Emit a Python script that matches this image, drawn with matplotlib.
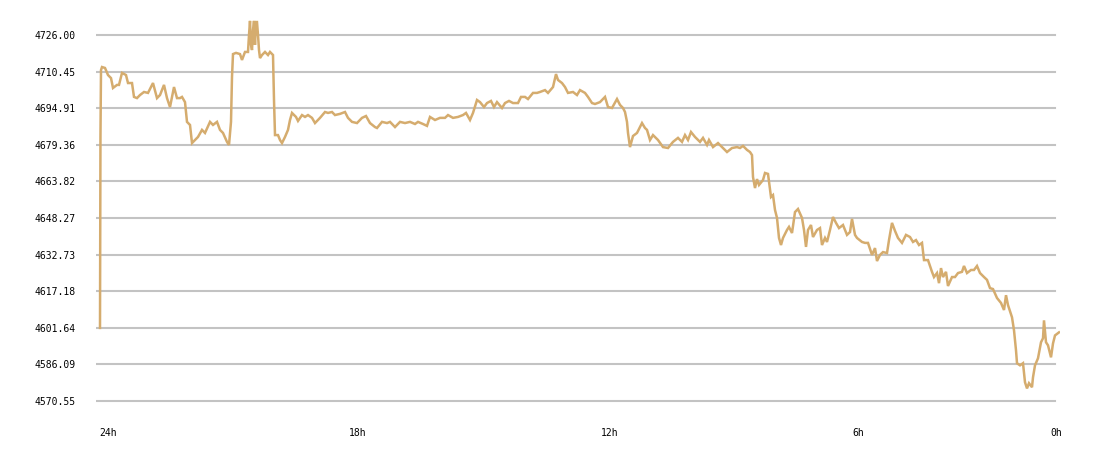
import numpy as np
import matplotlib
matplotlib.use('Agg')
import matplotlib.pyplot as plt

# minutes since 24h ago, price
minutes = [0, 0.7, 1.5, 3, 7.5, 12, 16.5, 19.5, 25.5, 28.5, 33, 39, 42, 48, 51, 55.5, 60, 66, 72, 79.5,
           85.5, 90, 96, 100.5, 105, 111, 115.5, 120, 123, 127.5, 130.5, 135, 138, 142.5, 147, 153, 157.5,
           165, 169.5, 175.5, 180, 184.5, 190.5, 193.5, 196.5, 198, 199.5, 204, 210, 213, 217.5, 222,
           223.5, 225, 226.5, 228, 229.5, 231, 232.5, 234, 235.5, 237, 238.5, 240, 243, 247.5, 252, 255,
           259.5, 261, 262.5, 267, 270, 273, 277.5, 282, 285, 288, 294, 297, 303, 307.5, 312, 318, 322.5,
           330, 337.5, 342, 348, 352.5, 360, 367.5, 372, 378, 385.5, 393, 399, 405, 412.5, 415.5, 423,
           430.5, 435, 442.5, 450, 457.5, 465, 472.5, 477, 484.5, 490.5, 495, 502.5, 510, 517.5, 522,
           529.5, 537, 544.5, 549, 555, 559.5, 565.5, 570, 576, 580.5, 586.5, 591, 595.5, 603, 607.5,
           613.5, 619.5, 627, 631.5, 637.5, 642, 649.5, 655.5, 660, 667.5, 672, 679.5, 684, 687, 693,
           697.5, 702, 709.5, 715.5, 720, 727.5, 732, 738, 742.5, 750, 757.5, 762, 768, 775.5, 780,
           784.5, 787.5, 790.5, 792, 795, 799.5, 805.5, 813, 817.5, 820.5, 825, 829.5, 837, 844.5, 852,
           859.5, 867, 873, 877.5, 882, 886.5, 892.5, 900, 904.5, 910.5, 913.5, 919.5, 927, 934.5, 940.5,
           948, 955.5, 960, 964.5, 970.5, 975, 978, 979.5, 982.5, 985.5, 988.5, 994.5, 997.5, 1002,
           1006.5, 1009.5, 1012.5, 1015.5, 1018.5, 1021.5, 1024.5, 1030.5, 1033.5, 1038, 1042.5, 1047,
           1053, 1056, 1059, 1062, 1066.5, 1069.5, 1075.5, 1080, 1083, 1087.5, 1090.5, 1095, 1099.5,
           1104, 1108.5, 1114.5, 1120.5, 1125, 1128, 1132.5, 1135.5, 1143, 1147.5, 1152, 1158, 1162.5,
           1165.5, 1170, 1174.5, 1180.5, 1183.5, 1188, 1192.5, 1197, 1203, 1209, 1215, 1219.5, 1224,
           1228.5, 1233, 1236, 1242, 1248, 1251, 1255.5, 1258.5, 1261.5, 1264.5, 1269, 1272, 1278,
           1282.5, 1287, 1293, 1296, 1300.5, 1306.5, 1311, 1315.5, 1320, 1326, 1330.5, 1335, 1339.5,
           1345.5, 1351.5, 1356, 1359, 1362, 1368, 1371, 1374, 1375.5, 1380, 1384.5, 1387.5, 1390.5,
           1393.5, 1398, 1399.5, 1402.5, 1407, 1411.5, 1414.5, 1416, 1419, 1422, 1426.5, 1429.5,
           1432.5, 1438.5]
price = [4601.6, 4683.0, 4711.1, 4712.4, 4712.0, 4709.0, 4707.7, 4703.5, 4704.8, 4704.8, 4709.9, 4709.0,
         4705.6, 4705.6, 4699.7, 4699.2, 4700.5, 4701.8, 4701.4, 4705.6, 4699.2, 4700.5, 4704.8, 4699.2,
         4695.4, 4703.9, 4699.2, 4699.2, 4699.7, 4697.5, 4689.1, 4687.8, 4680.1, 4681.4, 4682.7, 4685.7,
         4684.4, 4689.1, 4687.8, 4689.1, 4685.7, 4684.4, 4680.6, 4679.3, 4689.1, 4708.2, 4717.9, 4718.4,
         4717.9, 4715.4, 4718.8, 4718.8, 4726.0, 4732.0, 4721.8, 4719.6, 4728.1, 4732.0, 4721.8, 4731.5,
         4731.5, 4726.0, 4719.6, 4716.2, 4717.5, 4718.8, 4717.5, 4718.8, 4717.5, 4698.4, 4683.5, 4683.5,
         4681.4, 4680.1, 4682.7, 4685.7, 4689.9, 4692.9, 4691.2, 4689.5, 4692.0, 4691.2, 4692.0, 4690.8,
         4688.6, 4690.8, 4693.3, 4692.9, 4693.3, 4692.0, 4692.5, 4693.3, 4690.8, 4689.1, 4688.6, 4690.8,
         4691.6, 4688.6, 4686.9, 4686.5, 4689.1, 4688.6, 4689.1, 4686.9, 4689.1, 4688.6, 4689.1, 4688.2,
         4689.1, 4688.2, 4687.4, 4691.2, 4689.9, 4690.8, 4690.8, 4692.0, 4690.8, 4691.2, 4692.0, 4692.9,
         4689.9, 4692.9, 4698.4, 4697.5, 4695.4, 4697.1, 4698.0, 4695.4, 4697.5, 4695.0, 4697.1, 4698.0,
         4697.1, 4697.1, 4699.7, 4699.7, 4698.8, 4701.4, 4701.4, 4701.8, 4702.6, 4701.4, 4703.9, 4709.4,
         4706.9, 4705.6, 4703.9, 4701.4, 4701.8, 4700.5, 4702.6, 4701.4, 4699.7, 4697.1, 4696.7, 4697.5,
         4699.7, 4695.4, 4695.0, 4698.8, 4696.3, 4695.0, 4693.3, 4689.1, 4684.4, 4678.4, 4683.1, 4684.4,
         4688.6, 4686.5, 4685.7, 4681.4, 4683.5, 4681.4, 4678.4, 4678.0, 4680.6, 4682.3, 4680.6, 4683.5,
         4681.4, 4684.8, 4682.7, 4680.6, 4682.3, 4679.3, 4681.4, 4678.4, 4680.1, 4678.0, 4676.3, 4678.0,
         4678.4, 4678.0, 4678.9, 4677.2, 4676.3, 4675.0, 4665.7, 4661.0, 4664.8, 4662.3, 4664.4, 4667.4,
         4667.0, 4657.2, 4658.0, 4651.7, 4648.3, 4639.8, 4636.8, 4639.8, 4643.2, 4644.5, 4641.9, 4650.8,
         4652.1, 4648.3, 4643.2, 4636.0, 4643.2, 4645.3, 4640.2, 4643.2, 4644.0, 4636.8, 4639.8, 4638.1,
         4643.2, 4648.7, 4646.2, 4644.0, 4645.3, 4641.1, 4642.3, 4647.9, 4641.1, 4639.8, 4638.1, 4637.7,
         4637.7, 4632.6, 4635.5, 4630.0, 4632.6, 4633.8, 4633.4, 4638.9, 4646.2, 4642.8, 4639.8, 4637.7,
         4641.1, 4640.2, 4638.1, 4638.9, 4636.8, 4637.7, 4630.4, 4630.4, 4625.4, 4623.2, 4624.9, 4620.6,
         4627.0, 4623.2, 4625.4, 4619.4, 4623.2, 4623.2, 4624.9, 4625.4, 4627.9, 4624.9, 4626.2, 4626.2,
         4627.9, 4624.9, 4623.2, 4622.0, 4618.5, 4618.1, 4614.3, 4612.2, 4609.2, 4615.5, 4611.3, 4606.1,
         4600.6, 4592.1, 4586.6, 4585.7, 4586.6, 4578.5, 4575.9, 4578.1, 4576.4, 4580.6, 4585.7, 4588.7,
         4595.5, 4597.2, 4604.8, 4595.5, 4594.2, 4589.1, 4595.0, 4598.4, 4599.7]

y_ticks = [4726.00, 4710.45, 4694.91, 4679.36, 4663.82, 4648.27, 4632.73, 4617.18, 4601.64, 4586.09, 4570.55]
y_labels = ['4726.00', '4710.45', '4694.91', '4679.36', '4663.82', '4648.27',
            '4632.73', '4617.18', '4601.64', '4586.09', '4570.55']
x_labels = ['24h', '18h', '12h', '6h', '0h']
# label left edges as placed in the original (not on an even hour grid)
x_label_pos = [-1.5, 373.5, 751.5, 1128, 1425]

fig = plt.figure(figsize=(11, 4.58), dpi=100)
ax = fig.add_axes([96/1100, 48/458, 964/1100, 390/458])

for v in y_ticks:
    ax.axhline(v, xmin=0, xmax=(1055-96)/964, color='#c3c3c3', lw=1.5, zorder=1)

ax.plot(minutes, price, color='#d5ac6e', lw=1.8, zorder=2, solid_joinstyle='miter')

ax.set_xlim(-6, 1440)
ax.set_ylim(4566.73, 4732.37)
for s in ax.spines.values():
    s.set_visible(False)

ax.set_yticks(y_ticks)
ax.set_yticklabels(y_labels, family='DejaVu Sans Mono', fontsize=7)
ax.set_xticks(x_label_pos)
ax.set_xticklabels(x_labels, family='DejaVu Sans Mono', fontsize=7, ha='left')
ax.tick_params(axis='y', length=0, pad=14.4)
ax.tick_params(axis='x', length=0, pad=13)

fig.savefig('out.png', dpi=100)
